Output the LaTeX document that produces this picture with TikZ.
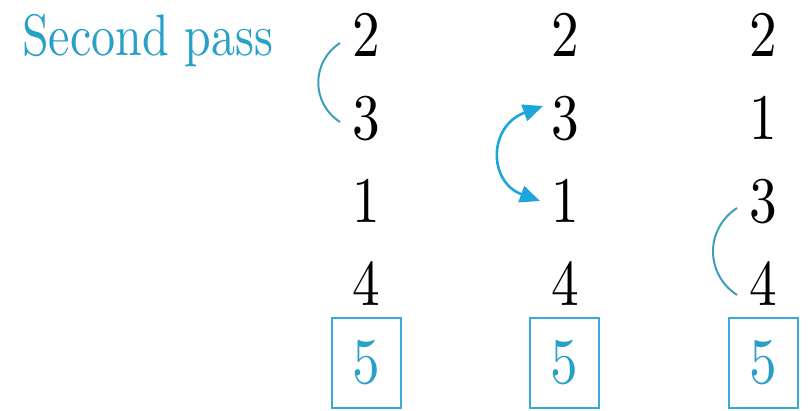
\documentclass[tikz,border=0pt]{standalone}
\usepackage{fontspec}
\usepackage{graphicx}
\setmainfont{lmroman10-regular.otf}
\usetikzlibrary{arrows.meta}
\definecolor{passblue}{RGB}{40,160,200}
\definecolor{arcteal}{RGB}{60,160,185}
\definecolor{arrowblue}{RGB}{30,165,220}
\definecolor{boxblue}{RGB}{55,170,215}
\newcommand{\narrow}[1]{\scalebox{0.85}[1]{#1}}
\tikzset{
  digit/.style={anchor=base,inner sep=0pt,font=\fontsize{65}{65}\selectfont,text=black},
  lastbox/.style={draw=boxblue,line width=2pt,minimum width=69pt,minimum height=90pt,inner sep=0pt,font=\fontsize{65}{65}\selectfont,text=passblue},
  cmparc/.style={draw=arcteal,line width=2pt},
  swaparrow/.style={draw=arrowblue,line width=2.6pt,{Triangle[length=20pt,width=17pt]}-{Triangle[length=20pt,width=17pt]}},
}
\begin{document}
\begin{tikzpicture}[x=1pt,y=-1pt]
\useasboundingbox (0,0) rectangle (808,410);
\node[anchor=base west,inner sep=0pt,font=\fontsize{58.5}{58.5}\selectfont,text=passblue] (title) at (22,55) {\scalebox{0.82}[1]{Second pass}};
% column 1
\node[digit] (a1) at (366,56) {\narrow{2}};
\node[digit] (a2) at (366,139) {\narrow{3}};
\node[digit] (a3) at (366,222) {\narrow{1}};
\node[digit] (a4) at (366,305) {\narrow{4}};
\node[lastbox] (a5) at (366,363) {\narrow{5}};
% column 2
\node[digit] (b1) at (565,56) {\narrow{2}};
\node[digit] (b2) at (565,139) {\narrow{3}};
\node[digit] (b3) at (565,222) {\narrow{1}};
\node[digit] (b4) at (565,305) {\narrow{4}};
\node[lastbox] (b5) at (564,363) {\narrow{5}};
% column 3
\node[digit] (c1) at (763,56) {\narrow{2}};
\node[digit] (c2) at (763,139) {\narrow{1}};
\node[digit] (c3) at (763,222) {\narrow{3}};
\node[digit] (c4) at (763,305) {\narrow{4}};
\node[lastbox] (c5) at (763,363) {\narrow{5}};
% comparison arcs and swap arrow
\coordinate (p1) at (340,43);
\coordinate (p2) at (340,122);
\draw[cmparc] (p1) .. controls (311,62) and (311,103) .. (p2);
\coordinate (q1) at (543,106);
\coordinate (q2) at (540,201);
\draw[swaparrow] (q1) .. controls (488,126) and (488,182) .. (q2);
\coordinate (r1) at (737,208);
\coordinate (r2) at (737,295);
\draw[cmparc] (r1) .. controls (705,229) and (705,274) .. (r2);
\end{tikzpicture}
\end{document}
